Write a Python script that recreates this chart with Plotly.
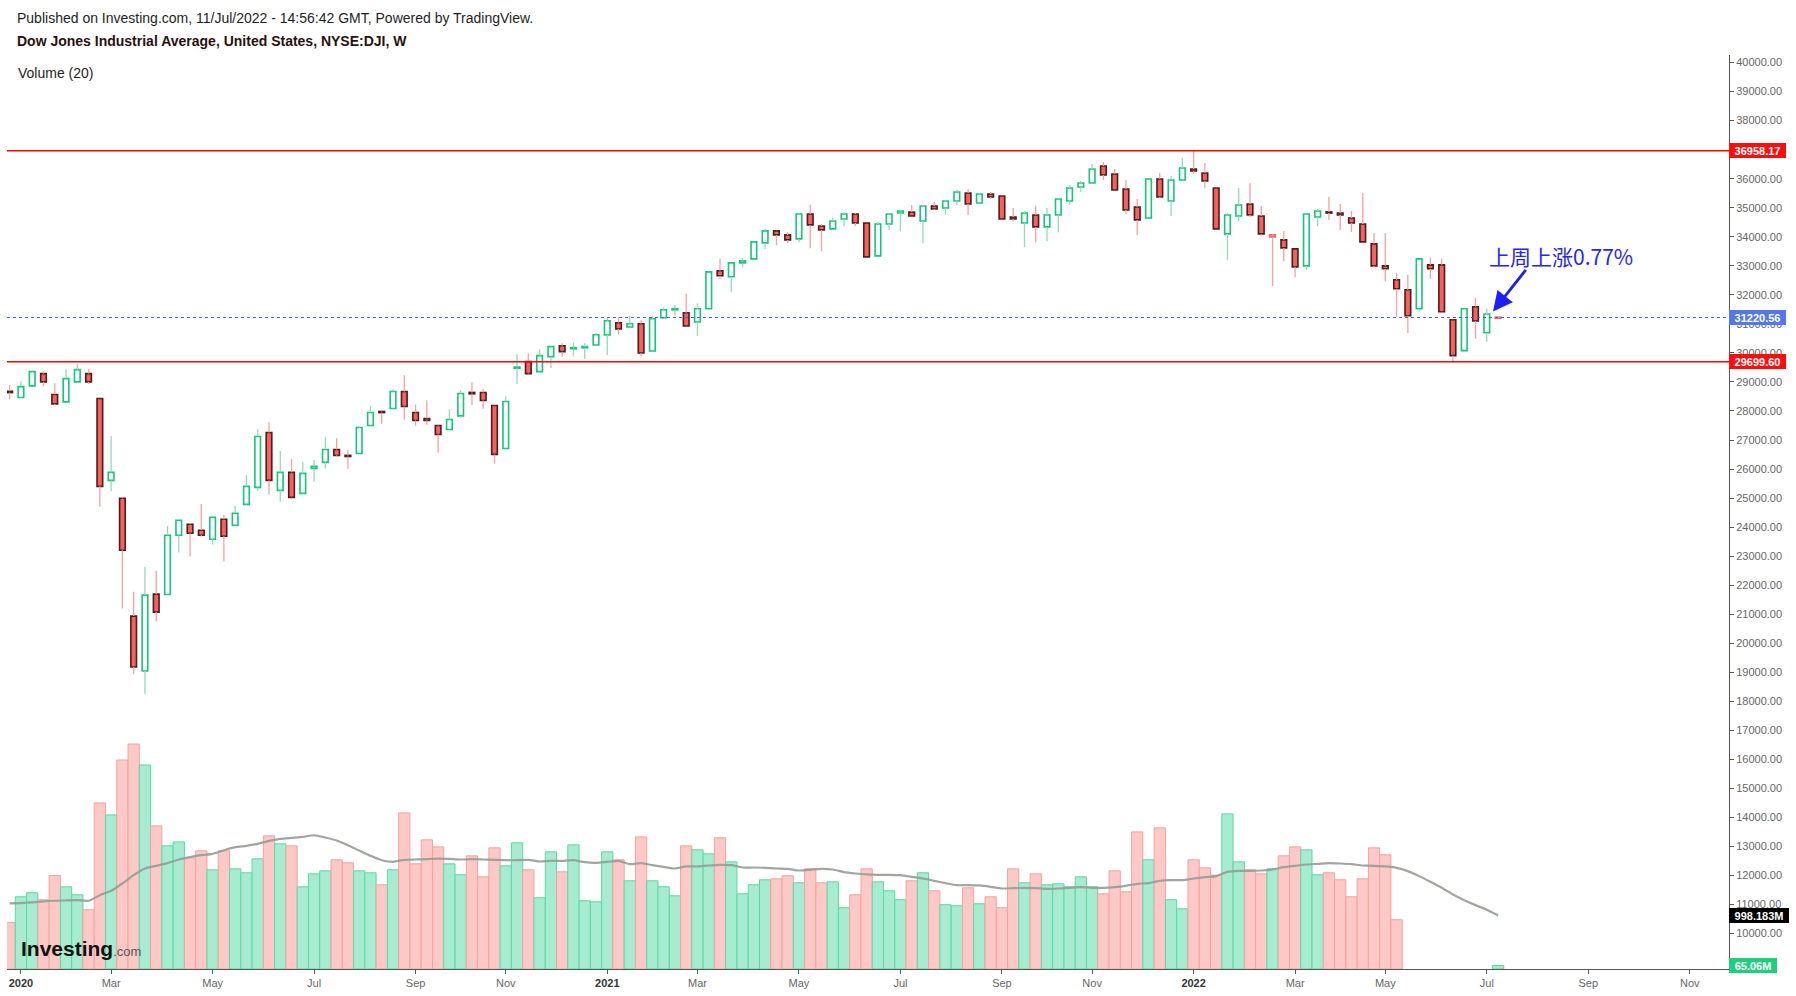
import pandas as pd
import plotly.graph_objects as go

# ---------------- data (weekly bars, Dow Jones Industrial Average) ----------------
first_week = "2019-12-30"
n_weeks = 133

open_ = [28680, 28462, 28863, 29287, 28566, 28314, 29001, 29287, 28428, 25610,
         24992, 20936, 19046, 21692, 21681, 23720, 24098, 23892, 23583, 24270,
         24064, 24785, 25370, 27260, 25267, 25885, 25163, 26023, 26229, 26675,
         26469, 26538, 27500, 27981, 28084, 28669, 27947, 27741, 27500, 27363,
         27832, 28640, 28634, 28187, 26710, 29482, 29700, 29356, 29871, 30249,
         30146, 30181, 30272, 30616, 31040, 30891, 31005, 30066, 31212, 31487,
         31383, 31063, 31521, 32827, 32621, 33102, 33239, 33789, 34201, 34064,
         33926, 34786, 34373, 34270, 34614, 34786, 34476, 33342, 34442, 34820,
         34854, 34545, 35060, 34992, 35232, 35507, 35164, 35473, 35404, 34682,
         34476, 34751, 34339, 34751, 35232, 35713, 35851, 36435, 36160, 35645,
         35026, 34648, 35988, 35232, 35954, 36332, 36195, 35679, 34098, 34717,
         35129, 34717, 33995, 33892, 33583, 32999, 34682, 34854, 34820, 34648,
         34442, 33755, 32999, 32517, 32174, 31521, 33033, 33033, 31143, 30078,
         31590, 30696, 31200]
high = [28886, 29024, 29402, 29367, 28955, 29436, 29608, 29436, 28440, 27134,
        25037, 21773, 22632, 22494, 24041, 24281, 24144, 24797, 24384, 24419,
        24728, 25793, 27374, 27615, 26618, 26343, 26240, 26309, 27099, 27065,
        26653, 27466, 28164, 28004, 28749, 29230, 28222, 28371, 27523, 28062,
        28714, 28989, 28749, 28200, 28508, 29952, 29986, 30123, 30230, 30330,
        30364, 30330, 30673, 31223, 31234, 31292, 31143, 31280, 31567, 31658,
        32048, 31704, 32800, 33251, 33110, 33274, 33830, 34282, 34210, 34167,
        34820, 35106, 34442, 34648, 34854, 34820, 34480, 34511, 34820, 34923,
        35095, 35095, 35198, 35267, 35610, 35645, 35507, 35542, 35410, 34992,
        34889, 35072, 34992, 35335, 35782, 35920, 36504, 36573, 36332, 35954,
        35301, 35990, 36195, 36091, 36710, 36952, 36538, 35690, 34820, 35679,
        35851, 35060, 34098, 34201, 33590, 34790, 34957, 35370, 35129, 34889,
        35507, 34133, 34133, 32758, 32690, 33245, 33274, 33239, 31150, 31530,
        31899, 31521, 31240]
low = [28405, 28451, 28850, 28863, 28210, 28300, 28990, 28932, 24705, 25244,
       21200, 18932, 18245, 20753, 21670, 23124, 22987, 23674, 23399, 22815,
       24050, 24770, 25255, 25118, 24877, 25015, 25129, 25564, 26011, 26435,
       26011, 26525, 27466, 27557, 28070, 27695, 27489, 27523, 26561, 27350,
       27764, 28210, 28073, 26183, 26700, 28932, 29270, 29340, 29482, 29860,
       29894, 29791, 30260, 29929, 30639, 30880, 29894, 30055, 31200, 31292,
       30915, 30582, 31510, 32540, 32094, 32953, 33230, 33571, 33709, 33777,
       33812, 33606, 33503, 34260, 34362, 34373, 33300, 33330, 34236, 34190,
       34710, 33777, 34923, 34751, 35095, 34751, 35155, 35301, 34605, 34534,
       33640, 33812, 33846, 34156, 35095, 35542, 35840, 35954, 35600, 34786,
       34064, 34640, 35335, 34717, 35945, 36160, 35679, 34260, 33193, 34545,
       34682, 34030, 32300, 33159, 32609, 32861, 34373, 34580, 34236, 34167,
       33815, 32930, 32472, 31246, 30685, 31418, 32552, 31410, 29660, 30070,
       30490, 30387, 31190]
close = [28634, 28840, 29356, 29001, 28245, 29115, 29425, 29001, 25404, 25885,
         23205, 19184, 21658, 21074, 23720, 24236, 23789, 23720, 24339, 23686,
         24476, 25404, 27122, 25610, 25885, 25026, 25851, 26091, 26675, 26469,
         26435, 27431, 27947, 27947, 28669, 28153, 27672, 27672, 27191, 27706,
         28600, 28590, 28359, 26504, 28325, 29505, 29287, 29906, 30215, 30043,
         30181, 30215, 30627, 31109, 30822, 31005, 29997, 31177, 31487, 31521,
         30925, 31521, 32792, 32655, 33102, 33170, 33823, 34201, 34064, 33892,
         34786, 34408, 34236, 34545, 34786, 34476, 33308, 34442, 34786, 34889,
         34717, 35060, 34957, 35232, 35542, 35129, 35473, 35370, 34614, 34614,
         34820, 34339, 34751, 35301, 35679, 35851, 36332, 36126, 35610, 34923,
         34580, 35988, 35370, 35954, 36366, 36263, 35920, 34270, 34751, 35095,
         34751, 34098, 34064, 33617, 32964, 34786, 34889, 34820, 34751, 34476,
         33823, 32999, 32896, 32208, 31280, 33239, 32896, 31418, 29906, 31521,
         31097, 31338.15, 31220.56]

# weekly volume, millions (None = no volume reported)
volume_m = [868, 1345, 1420, 1290, 1742, 1531, 1383, 1104, 3094, 2871,
            3894, 4191, 3801, 2666, 2294, 2368, 2071, 2201, 1848, 2201,
            1866, 1792, 2052, 2480, 2331, 2294, 1531, 1773, 1829, 2034,
            1978, 1829, 1792, 1569, 1848, 2908, 1959, 2406, 2275, 1959,
            1755, 2108, 1717, 2257, 1922, 2350, 1848, 1327, 2182, 1810,
            2313, 1271, 1252, 2182, 2034, 1643, 2461, 1643, 1531, 1364,
            2294, 2220, 2145, 2443, 1996, 1401, 1569, 1662, 1680, 1736,
            1606, 1866, 1606, 1624, 1141, 1383, 1866, 1624, 1457, 1290,
            1643, 1792, 1457, 1197, 1178, 1513, 1215, 1345, 1141, 1866,
            1606, 1773, 1569, 1587, 1531, 1717, 1531, 1401, 1829, 1438,
            2554, 2034, 2629, 1290, 1122, 2034, 1885, 1748, 2889, 1996,
            1848, 1773, 1866, 2108, 2275, 2220, 1755, 1792, 1662, 1345,
            1680, 2257, 2127, 918, None, None, None, None, None, None,
            None, None, 65.06]

# Volume (20) moving average, millions
vol_ma_m = [1221, 1228, 1240, 1259, 1271, 1277, 1283, 1271, 1376, 1457,
            1593, 1748, 1872, 1922, 1972, 2040, 2083, 2120, 2145, 2213,
            2269, 2294, 2331, 2387, 2424, 2443, 2461, 2492, 2449, 2393,
            2306, 2207, 2108, 2027, 1996, 2034, 2040, 2046, 2058, 2052,
            2040, 2046, 2040, 2034, 2027, 2027, 2034, 2003, 2015, 2015,
            2027, 1990, 1978, 1996, 2015, 1953, 1972, 1934, 1903, 1872,
            1910, 1910, 1928, 1941, 1934, 1891, 1891, 1885, 1872, 1866,
            1835, 1848, 1866, 1854, 1804, 1779, 1761, 1755, 1755, 1748,
            1717, 1686, 1643, 1600, 1562, 1562, 1556, 1531, 1500, 1507,
            1513, 1507, 1494, 1500, 1513, 1525, 1513, 1513, 1525, 1550,
            1587, 1600, 1643, 1655, 1655, 1686, 1711, 1730, 1810, 1829,
            1829, 1835, 1854, 1897, 1922, 1947, 1959, 1972, 1965, 1953,
            1928, 1922, 1910, 1885, 1823, 1730, 1624, 1513, 1389, 1283,
            1190, 1104, 998.183]

resistance_level = 36958.17
support_level = 29699.60
last_price = 31220.56
last_volume_ma = 998.183
last_volume = 65.06

tick_dates = ["2020-01-06", "2020-03-02", "2020-05-04", "2020-07-06", "2020-09-07",
              "2020-11-02", "2021-01-04", "2021-03-01", "2021-05-03", "2021-07-05",
              "2021-09-06", "2021-11-01", "2022-01-03", "2022-03-07", "2022-05-02",
              "2022-07-04", "2022-09-05", "2022-11-07"]
tick_labels = ["2020", "Mar", "May", "Jul", "Sep", "Nov",
               "2021", "Mar", "May", "Jul", "Sep", "Nov",
               "2022", "Mar", "May", "Jul", "Sep", "Nov"]
price_ticks = list(range(10000, 40001, 1000))

# ---------------- styling ----------------
FONT = "Liberation Sans, Arial, sans-serif"
RED_FILL = "#f2625e"
RED_EDGE = "#4e1c1c"
RED_HOLLOW = "#ef6a66"
GREEN = "#15c67a"
RED_WICK = "#f3a2a0"
GREEN_WICK = "#96d9b7"
VOL_RED_FILL = "#fdc9c7"
VOL_RED_EDGE = "#f5a29e"
VOL_GREEN_FILL = "#a7ecd0"
VOL_GREEN_EDGE = "#5cd8a0"

dates = pd.date_range(first_week, periods=n_weeks, freq="7D")
WEEK_MS = 7 * 24 * 3600 * 1000

# candle colouring (hollow-candle style): colour by close vs previous close,
# fill by close vs open
body_fill, body_edge, wick_red, wick_green = [], [], [], []
for i in range(n_weeks):
    o, c = open_[i], close[i]
    up = i > 0 and c > close[i - 1]
    hollow = c > o
    if hollow:
        body_fill.append("#ffffff")
        body_edge.append(GREEN if up else RED_HOLLOW)
    else:
        body_fill.append(GREEN if up else RED_FILL)
        body_edge.append(GREEN if up else RED_EDGE)
    top, bot = max(o, c), min(o, c)
    seg_x = [dates[i], dates[i], None, dates[i], dates[i], None]
    seg_y = [high[i], top, None, bot, low[i], None]
    if up:
        wick_green.append((seg_x, seg_y))
    else:
        wick_red.append((seg_x, seg_y))

MIN_BODY = 40
body_base, body_size = [], []
for o, c in zip(open_, close):
    size = max(abs(c - o), MIN_BODY)
    mid = (o + c) / 2
    body_base.append(mid - size / 2)
    body_size.append(size)


def flatten(segs):
    xs, ys = [], []
    for sx, sy in segs:
        xs += sx
        ys += sy
    return xs, ys


fig = go.Figure()

for segs, col in ((wick_red, RED_WICK), (wick_green, GREEN_WICK)):
    wx, wy = flatten(segs)
    fig.add_trace(go.Scatter(x=wx, y=wy, mode="lines", line=dict(color=col, width=1.3),
                             hoverinfo="skip", showlegend=False, connectgaps=False))

fig.add_trace(go.Bar(x=dates, y=body_size, base=body_base, width=0.5 * WEEK_MS,
                     marker=dict(color=body_fill, line=dict(color=body_edge, width=1.6)),
                     hoverinfo="skip", showlegend=False))

# volume
vol_up = [c > o for o, c in zip(open_, close)]
fig.add_trace(go.Bar(x=dates, y=volume_m, yaxis="y2", width=WEEK_MS,
                     marker=dict(color=[VOL_GREEN_FILL if u else VOL_RED_FILL for u in vol_up],
                                 line=dict(color=[VOL_GREEN_EDGE if u else VOL_RED_EDGE for u in vol_up],
                                           width=1)),
                     hoverinfo="skip", showlegend=False))
fig.add_trace(go.Scatter(x=dates, y=vol_ma_m, yaxis="y2", mode="lines",
                         line=dict(color="rgba(150,156,150,0.9)", width=2.2, shape="spline", smoothing=0.6),
                         hoverinfo="skip", showlegend=False))

# ---------------- layout geometry (pixels) ----------------
W, H = 1796, 996
L_PX, R_PX, T_PX, B_PX = 7, 1729, 55, 971
plot_w, plot_h = R_PX - L_PX, B_PX - T_PX


def px_x(px):
    return (px - L_PX) / plot_w


def px_y(py):
    return (B_PX - py) / plot_h


x0 = pd.Timestamp(first_week) + pd.Timedelta(weeks=-0.234)
x1 = pd.Timestamp(first_week) + pd.Timedelta(weeks=152.48)

shapes = [
    dict(type="line", xref="paper", x0=0, x1=1, yref="y", y0=resistance_level, y1=resistance_level,
         line=dict(color="#ff0000", width=1.5)),
    dict(type="line", xref="paper", x0=0, x1=1, yref="y", y0=support_level, y1=support_level,
         line=dict(color="#ff0000", width=1.5)),
    dict(type="line", xref="paper", x0=0, x1=1, yref="y", y0=last_price, y1=last_price,
         line=dict(color="#3d5fe6", width=1, dash="dot")),
]


def axis_label(y, text, bg, width, yref="y"):
    return dict(x=1, xref="paper", xanchor="left", y=y, yref=yref, yanchor="middle",
                text="<b>%s</b>" % text, showarrow=False, align="center",
                font=dict(color="white", size=11, family=FONT),
                bgcolor=bg, bordercolor=bg, borderwidth=1, borderpad=0,
                width=width, height=13)


annotations = [
    dict(x=px_x(15), y=px_y(18.3), xref="paper", yref="paper", xanchor="left", yanchor="middle",
         text="Published on Investing.com, 11/Jul/2022 - 14:56:42 GMT, Powered by TradingView.",
         showarrow=False, font=dict(size=14, color="#1e1e1e", family=FONT)),
    dict(x=px_x(15), y=px_y(41), xref="paper", yref="paper", xanchor="left", yanchor="middle",
         text="<b>Dow Jones Industrial Average, United States, NYSE:DJI, W</b>",
         showarrow=False, font=dict(size=14, color="#2a1010", family=FONT)),
    dict(x=px_x(16), y=px_y(73.3), xref="paper", yref="paper", xanchor="left", yanchor="middle",
         text="Volume (20)", showarrow=False, font=dict(size=14, color="#1e1e1e", family=FONT)),
    dict(x=px_x(19), y=px_y(950), xref="paper", yref="paper", xanchor="left", yanchor="middle",
         text="<b>Investing</b><span style='font-size:13px;color:#555555'>.com</span>",
         showarrow=False, font=dict(size=21, color="#111111", family=FONT)),
    dict(x=px_x(1561), y=px_y(256), xref="paper", yref="paper", xanchor="center", yanchor="middle",
         text="上周上涨0.77%", showarrow=False,
         font=dict(size=21, color="#2626ee", family="Noto Sans CJK SC")),
    dict(x=px_x(1493), y=px_y(312), xref="paper", yref="paper", text="", showarrow=True,
         ax=34, ay=-43, arrowhead=2, arrowsize=1.4, arrowwidth=2.8, arrowcolor="#1f1ff5", standoff=0),
    axis_label(resistance_level, "36958.17", "#ff0d0d", 55),
    axis_label(last_price, "31220.56", "#5577e8", 55),
    axis_label(support_level, "29699.60", "#ff0d0d", 55),
    axis_label(last_volume_ma, "998.183M", "#000000", 58, yref="y2"),
    axis_label(last_volume, "65.06M", "#1fcf7e", 46, yref="y2"),
]

tick_text = ["<b><span style='color:#333333'>%s</span></b>" % t if t.isdigit() else t
             for t in tick_labels]

price_lo = 29699.6 - (B_PX - 362.3) / 0.0291
price_hi = 29699.6 + (362.3 - T_PX) / 0.0291
vol_hi = plot_h * last_volume_ma / (B_PX - 917.3)

fig.update_layout(
    width=W, height=H,
    margin=dict(l=L_PX, r=W - R_PX, t=T_PX, b=H - B_PX, pad=0),
    paper_bgcolor="white", plot_bgcolor="white",
    barmode="overlay", showlegend=False, hovermode=False,
    font=dict(family=FONT, color="#666666", size=11),
    xaxis=dict(type="date", range=[x0, x1], showgrid=False, zeroline=False,
               showline=True, linecolor="#555555", linewidth=1,
               ticks="outside", ticklen=4, tickcolor="#555555",
               tickmode="array", tickvals=tick_dates, ticktext=tick_text,
               tickfont=dict(size=11, color="#666666", family=FONT)),
    yaxis=dict(side="right", range=[price_lo, price_hi], showgrid=False, zeroline=False,
               showline=True, linecolor="#555555", linewidth=1,
               ticks="outside", ticklen=4, tickcolor="#555555",
               tickmode="array", tickvals=price_ticks,
               ticktext=["%.2f" % v for v in price_ticks],
               tickfont=dict(size=11, color="#666666", family=FONT)),
    yaxis2=dict(overlaying="y", range=[0, vol_hi], visible=False, showgrid=False, zeroline=False),
    shapes=shapes,
    annotations=annotations,
)

fig.write_html(
    "out.html",
    config={"displayModeBar": False},
    post_script="document.body.style.margin='0px';document.body.style.padding='0px';"
                "document.body.style.overflow='hidden';",
)
